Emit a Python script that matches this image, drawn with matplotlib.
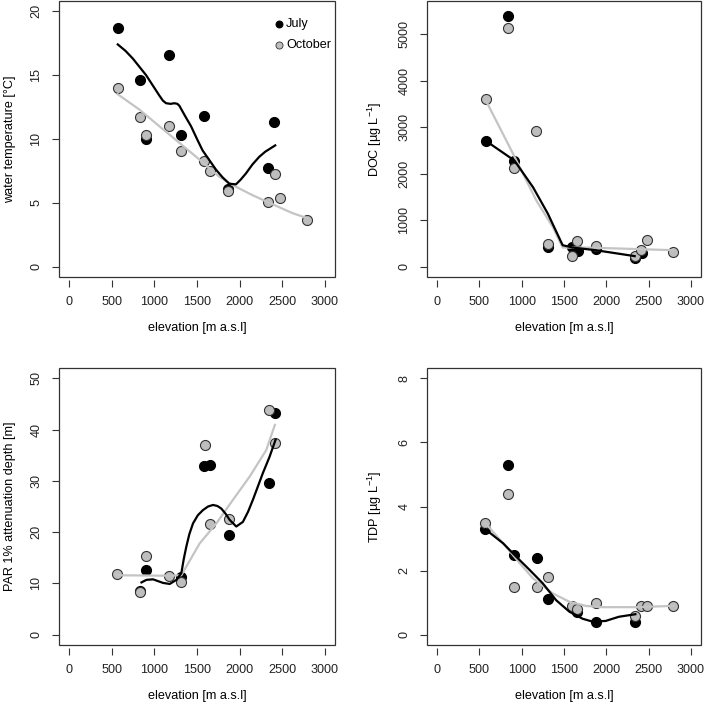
import matplotlib
matplotlib.use("Agg")
import matplotlib.pyplot as plt
from matplotlib.patches import Rectangle

plt.rcParams["font.family"] = ["Liberation Sans", "DejaVu Sans"]
plt.rcParams["font.size"] = 9.1
plt.rcParams["mathtext.fontset"] = "custom"
plt.rcParams["mathtext.rm"] = "Liberation Sans"
plt.rcParams["mathtext.default"] = "regular"

# ---- data (elevation in m a.s.l.) ----
# water temperature [degC]
temp_jul_x = [570, 832, 902, 1167, 1308, 1586, 1867, 2339, 2406]
temp_jul_y = [18.7, 14.6, 10.0, 16.6, 10.3, 11.8, 6.1, 7.7, 11.3]
temp_oct_x = [570, 832, 902, 1167, 1308, 1586, 1648, 1867, 2339, 2410, 2476, 2789]
temp_oct_y = [14.0, 11.7, 10.3, 11.0, 9.1, 8.3, 7.5, 5.9, 5.1, 7.3, 5.4, 3.7]
temp_jul_fit_x = [570, 660, 746, 830, 902, 980, 1058, 1100, 1137, 1190, 1234, 1270, 1293,
                  1360, 1430, 1500, 1566, 1650, 1723, 1800, 1879, 1957, 2010, 2074, 2150,
                  2230, 2300, 2347, 2418]
temp_jul_fit_y = [17.4, 16.9, 16.3, 15.6, 15.0, 14.2, 13.4, 13.0, 12.8, 12.75, 12.8, 12.75, 12.6,
                  11.8, 11.0, 10.0, 9.1, 8.3, 7.6, 7.0, 6.5, 6.45, 6.8, 7.3, 8.0,
                  8.6, 9.0, 9.2, 9.5]
temp_oct_fit_x = [570, 824, 1058, 1293, 1527, 1761, 1917, 2152, 2386, 2620, 2796]
temp_oct_fit_y = [13.5, 12.3, 11.0, 9.7, 8.4, 7.05, 6.4, 5.6, 4.9, 4.2, 3.8]

# DOC [ug/L]
doc_jul_x = [578, 836, 914, 1312, 1600, 1660, 1875, 2336, 2422]
doc_jul_y = [2700, 5400, 2270, 430, 430, 350, 386, 180, 286]
doc_oct_x = [578, 836, 910, 1164, 1312, 1590, 1652, 1875, 2336, 2414, 2480, 2793]
doc_oct_y = [3614, 5143, 2129, 2929, 500, 229, 557, 457, 229, 371, 571, 321]
doc_jul_fit_x = [578, 914, 1133, 1309, 1484, 1602, 1875, 2336]
doc_jul_fit_y = [2707, 2286, 1714, 1143, 464, 414, 357, 229]
doc_oct_fit_x = [578, 859, 977, 1172, 1367, 1484, 1758, 2148, 2793]
doc_oct_fit_y = [3571, 2571, 2143, 1429, 857, 414, 414, 393, 357]

# PAR 1% attenuation depth [m]
par_jul_x = [836, 906, 1309, 1586, 1656, 1871, 2344, 2418]
par_jul_y = [8.5, 12.7, 11.2, 32.9, 33.1, 19.5, 29.6, 43.2]
par_oct_x = [566, 836, 906, 1176, 1309, 1590, 1656, 1871, 2340, 2414]
par_oct_y = [11.8, 8.3, 15.3, 11.5, 10.2, 37.0, 21.6, 22.6, 43.8, 37.3]
par_jul_fit_x = [848, 906, 984, 1102, 1180, 1258, 1316, 1345, 1375, 1410, 1453, 1510, 1570,
                 1630, 1688, 1740, 1785, 1835, 1883, 1961, 2039, 2100, 2156, 2273, 2352, 2422]
par_jul_fit_y = [10.2, 10.7, 10.8, 10.1, 9.9, 10.7, 12.0, 14.8, 17.2, 19.6, 21.7, 23.3, 24.3,
                 25.0, 25.3, 25.1, 24.6, 23.6, 22.4, 21.1, 22.0, 24.0, 26.3, 31.5, 34.7, 38.0]
par_oct_fit_x = [566, 1176, 1316, 1375, 1531, 1727, 1922, 2117, 2313, 2414]
par_oct_fit_y = [11.6, 11.5, 11.6, 13.3, 17.8, 21.7, 26.3, 30.8, 36.0, 40.9]

# TDP [ug/L]
tdp_jul_x = [570, 836, 914, 1176, 1312, 1652, 1875, 2344]
tdp_jul_y = [3.3, 5.3, 2.5, 2.4, 1.1, 0.7, 0.4, 0.4]
tdp_oct_x = [570, 836, 914, 1176, 1312, 1590, 1652, 1875, 2344, 2406, 2480, 2793]
tdp_oct_y = [3.5, 4.4, 1.5, 1.5, 1.8, 0.9, 0.8, 1.0, 0.6, 0.9, 0.9, 0.9]
tdp_jul_fit_x = [570, 781, 914, 1094, 1250, 1406, 1563, 1719, 1836, 1992, 2148, 2344]
tdp_jul_fit_y = [3.29, 2.85, 2.49, 2.02, 1.60, 1.08, 0.72, 0.50, 0.41, 0.43, 0.56, 0.64]
tdp_oct_fit_x = [570, 781, 977, 1133, 1367, 1563, 1758, 1953, 2344, 2793]
tdp_oct_fit_y = [3.48, 2.85, 2.23, 1.76, 1.29, 1.03, 0.90, 0.86, 0.86, 0.90]

X_TICKS = [0, 500, 1000, 1500, 2000, 2500, 3000]

GREY_PT = "#bebebe"
GREY_LN = "#c4c4c4"
EDGE = "#333333"
FRAME = "#333333"

W, H = 708, 706


def frac(l, t, r, b):
    return [l / W, 1 - b / H, (r - l) / W, (b - t) / H]


def panel(fig, rect, jx, jy, ox, oy, jfx, jfy, ofx, ofy, ylim, yticks, ylabel):
    ax = fig.add_axes(rect)
    ax.scatter(jx, jy, s=52, c="black", edgecolors="black", linewidths=0.8, zorder=3)
    ax.scatter(ox, oy, s=52, c=GREY_PT, edgecolors=EDGE, linewidths=0.8, zorder=3)
    ax.plot(ofx, ofy, color=GREY_LN, lw=1.6, zorder=4, solid_joinstyle="round")
    ax.plot(jfx, jfy, color="black", lw=1.6, zorder=4, solid_joinstyle="round")
    ax.set_xlim(-120, 3120)
    ax.set_ylim(*ylim)
    ax.set_xticks(X_TICKS)
    ax.set_yticks(yticks)
    ax.set_xticklabels([str(t) for t in X_TICKS])
    ax.set_yticklabels([str(t) for t in yticks], rotation=90, va="center")
    ax.set_xlabel("elevation [m a.s.l]", labelpad=10)
    ax.set_ylabel(ylabel, labelpad=10)
    for s in ax.spines.values():
        s.set_visible(False)
    ax.spines["bottom"].set_position(("outward", 2))
    ax.add_patch(Rectangle((0, 0), 1, 1, transform=ax.transAxes, fill=False,
                           edgecolor=FRAME, lw=0.9, clip_on=False, zorder=5))
    ax.tick_params(direction="out", length=5, width=0.8, color=FRAME,
                   labelcolor="#222222")
    ax.tick_params(axis="x", pad=7)
    ax.tick_params(axis="y", pad=7)
    return ax


fig = plt.figure(figsize=(W / 100, H / 100), dpi=100)

ax1 = panel(fig, frac(59, 1, 335, 277), temp_jul_x, temp_jul_y, temp_oct_x, temp_oct_y,
            temp_jul_fit_x, temp_jul_fit_y, temp_oct_fit_x, temp_oct_fit_y,
            (-0.8, 20.8), [0, 5, 10, 15, 20], "water temperature [°C]")
ax1.scatter([], [], s=26, c="black", edgecolors="black", linewidths=0.6, label="July")
ax1.scatter([], [], s=26, c=GREY_PT, edgecolors=EDGE, linewidths=0.6, label="October")
h, l = ax1.get_legend_handles_labels()
ax1.legend(h[-2:], l[-2:], loc="upper left", bbox_to_anchor=(0.743, 0.975), frameon=False,
           handlelength=0.8, handletextpad=0.15, labelspacing=0.7, borderaxespad=0.4,
           fontsize=9.1)

panel(fig, frac(427, 1, 701, 277), doc_jul_x, doc_jul_y, doc_oct_x, doc_oct_y,
      doc_jul_fit_x, doc_jul_fit_y, doc_oct_fit_x, doc_oct_fit_y,
      (-220, 5720), [0, 1000, 2000, 3000, 4000, 5000], r"DOC [µg L$^{-1}$]")

panel(fig, frac(59, 368, 335, 645), par_jul_x, par_jul_y, par_oct_x, par_oct_y,
      par_jul_fit_x, par_jul_fit_y, par_oct_fit_x, par_oct_fit_y,
      (-2, 52), [0, 10, 20, 30, 40, 50], "PAR 1% attenuation depth [m]")

panel(fig, frac(427, 368, 701, 645), tdp_jul_x, tdp_jul_y, tdp_oct_x, tdp_oct_y,
      tdp_jul_fit_x, tdp_jul_fit_y, tdp_oct_fit_x, tdp_oct_fit_y,
      (-0.32, 8.32), [0, 2, 4, 6, 8], r"TDP [µg L$^{-1}$]")

fig.savefig("out.png", dpi=100)
